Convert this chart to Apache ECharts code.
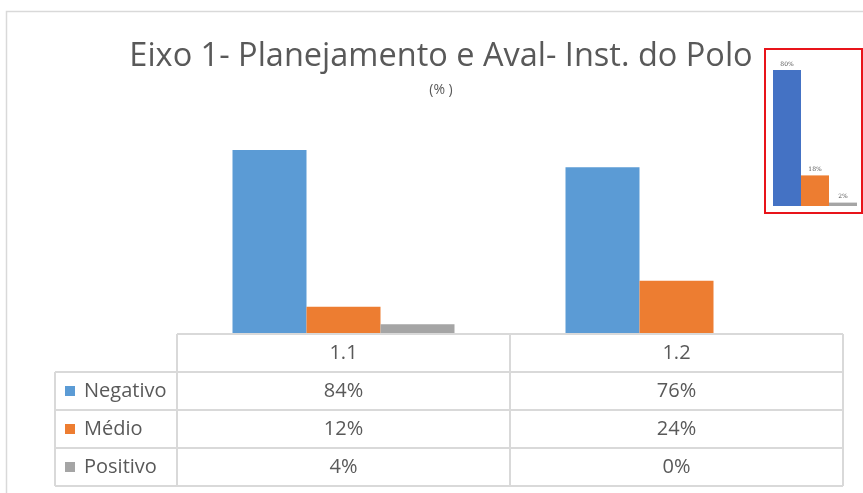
<!DOCTYPE html>
<html>
<head>
<meta charset="utf-8">
<script src="https://cdn.jsdelivr.net/npm/echarts@6/dist/echarts.min.js"></script>
<style>html,body{margin:0;padding:0;background:#fff}#c{width:863px;height:493px}</style>
</head>
<body>
<div id="c"></div>
<script>
// ---- data ----
const categories = ['1.1', '1.2'];
const seriesNames = ['Negativo', 'Médio', 'Positivo'];
const negativo = [84, 76];
const medio = [12, 24];
const positivo = [4, 0];
const insetCategory = [''];
const insetNegativo = [80];
const insetMedio = [18];
const insetPositivo = [2];
const titleText = 'Eixo 1- Planejamento e Aval- Inst. do Polo';
const subtitleText = '(% )';

// ---- style / layout ----
const colors = ['#5B9BD5', '#ED7D31', '#A5A5A5'];
const insetColors = ['#4472C4', '#ED7D31', '#A5A5A5'];
const FONT = 'Open Sans';
const TXT = '#595959';
const LINE = '#d9d9d9';
const gridL = 177, gridR = 843, gridB = 333;
const rowY = [334, 372, 410, 448, 486];
const legendX = 55;

const chart = echarts.init(document.getElementById('c'));
const allSeriesData = [negativo, medio, positivo];
const insetData = [insetNegativo, insetMedio, insetPositivo];

const xAxes = [
  { gridIndex: 0, type: 'category', data: categories, axisLine: { show: false }, axisTick: { show: false },
    axisLabel: { margin: 20, verticalAlign: 'middle', fontFamily: FONT, fontSize: 20, color: TXT } },
];
allSeriesData.forEach((arr, i) => {
  xAxes.push({ gridIndex: 0, type: 'category', data: arr.map(v => v + '%'), position: 'bottom',
    axisLine: { show: false }, axisTick: { show: false },
    axisLabel: { margin: 58 + i * 38, verticalAlign: 'middle', fontFamily: FONT, fontSize: 20, color: TXT } });
});
xAxes.push({ gridIndex: 1, type: 'category', data: insetCategory, axisLine: { show: false }, axisTick: { show: false }, axisLabel: { show: false } });
const insetAxisIndex = xAxes.length - 1;

const series = [];
seriesNames.forEach((name, i) => {
  series.push({ name, type: 'bar', xAxisIndex: 0, yAxisIndex: 0, data: allSeriesData[i],
    barWidth: 74, barGap: '0%', itemStyle: { color: colors[i] }, z: 3 });
});
seriesNames.forEach((name, i) => {
  series.push({ name: name + ' (inset)', type: 'bar', xAxisIndex: insetAxisIndex, yAxisIndex: 1, data: insetData[i],
    barWidth: 28, barGap: '0%', itemStyle: { color: insetColors[i] }, z: 3,
    label: { show: true, position: 'top', distance: 3, formatter: '{c}%', fontFamily: 'DejaVu Serif', fontSize: 6, color: '#555' } });
});

const graphics = [];
// outer chart border
graphics.push({ type: 'rect', shape: { x: 6.5, y: 11.5, width: 900, height: 500 }, style: { fill: 'none', stroke: LINE, lineWidth: 1.5 }, z: 0 });
// title
graphics.push({ type: 'text', x: 441, y: 57, style: { text: titleText, font: '32.5px "Open Sans"', fill: TXT, textAlign: 'center', textVerticalAlign: 'middle' }, z: 5 });
graphics.push({ type: 'text', x: 441, y: 90, style: { text: subtitleText, font: '14px "Open Sans"', fill: TXT, textAlign: 'center', textVerticalAlign: 'middle' }, z: 5 });
// table lines
graphics.push({ type: 'line', shape: { x1: gridL, y1: rowY[0], x2: gridR, y2: rowY[0] }, style: { stroke: LINE, lineWidth: 2 }, z: 1 });
for (let r = 1; r < rowY.length; r++) {
  graphics.push({ type: 'line', shape: { x1: legendX, y1: rowY[r], x2: gridR, y2: rowY[r] }, style: { stroke: LINE, lineWidth: 2 }, z: 1 });
}
graphics.push({ type: 'line', shape: { x1: legendX, y1: rowY[1], x2: legendX, y2: rowY[4] }, style: { stroke: LINE, lineWidth: 2 }, z: 1 });
[gridL, (gridL + gridR) / 2, gridR].forEach(x => {
  graphics.push({ type: 'line', shape: { x1: x, y1: rowY[0], x2: x, y2: rowY[4] }, style: { stroke: LINE, lineWidth: 2 }, z: 1 });
});
// legend keys in table
seriesNames.forEach((name, i) => {
  const cy = (rowY[i + 1] + rowY[i + 2]) / 2;
  graphics.push({ type: 'rect', shape: { x: 65, y: cy - 5, width: 10, height: 10 }, style: { fill: colors[i] }, z: 5 });
  graphics.push({ type: 'text', x: 84, y: cy, style: { text: name, font: '20px "Open Sans"', fill: TXT, textAlign: 'left', textVerticalAlign: 'middle' }, z: 5 });
});
// inset box
graphics.push({ type: 'rect', shape: { x: 765, y: 49, width: 97, height: 164 }, style: { fill: '#fff', stroke: 'none' }, z: 0 });
graphics.push({ type: 'rect', shape: { x: 765, y: 49, width: 97, height: 164 }, style: { fill: 'none', stroke: '#E8141A', lineWidth: 2 }, z: 10 });

chart.setOption({
  animation: false,
  backgroundColor: '#fff',
  grid: [
    { left: gridL, right: 863 - gridR, top: 115, bottom: 493 - gridB, containLabel: false },
    { left: 773, right: 6, top: 36, bottom: 287, containLabel: false }
  ],
  xAxis: xAxes,
  yAxis: [
    { gridIndex: 0, type: 'value', min: 0, max: 100, show: false },
    { gridIndex: 1, type: 'value', min: 0, max: 100, show: false }
  ],
  series,
  graphic: graphics
});
</script>
</body>
</html>
